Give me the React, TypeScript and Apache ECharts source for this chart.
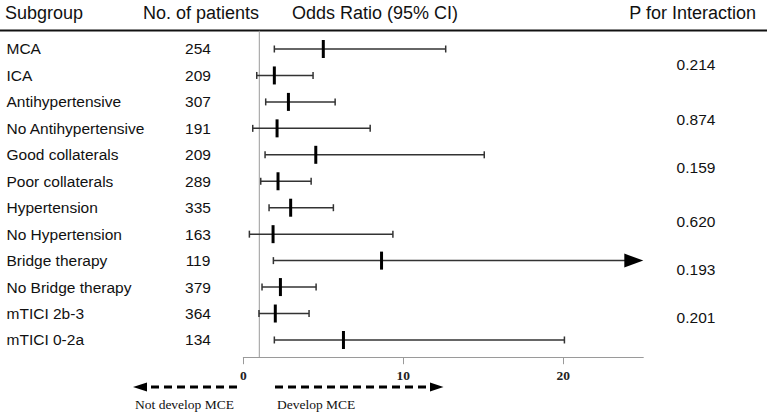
import React, { useEffect, useRef } from 'react';
import * as echarts from 'echarts';

const subgroups = [
  'MCA', 'ICA', 'Antihypertensive', 'No Antihypertensive', 'Good collaterals', 'Poor collaterals',
  'Hypertension', 'No Hypertension', 'Bridge therapy', 'No Bridge therapy', 'mTICI 2b-3', 'mTICI 0-2a',
];
const patients = [254, 209, 307, 191, 209, 289, 335, 163, 119, 379, 364, 134];
const oddsRatio = [5.0, 1.94, 2.82, 2.11, 4.53, 2.17, 2.96, 1.86, 8.64, 2.32, 2.0, 6.26];
const ciLow = [1.94, 0.84, 1.4, 0.59, 1.36, 1.09, 1.61, 0.38, 1.88, 1.17, 0.98, 1.94];
const ciHigh = [12.65, 4.36, 5.74, 7.93, 15.06, 4.24, 5.63, 9.35, 30, 4.55, 4.11, 20.07];
const pValues = ['0.214', '0.874', '0.159', '0.620', '0.193', '0.201'];
const pValueRows = [0.58, 2.66, 4.47, 6.53, 8.33, 10.14];
const xTicks = [0, 10, 20];
const X_MIN = 0;
const X_MAX = 25;
const REF_VALUE = 1;

const SANS = '"Liberation Sans", Arial, Helvetica, sans-serif';
const SERIF = '"Liberation Serif", "Times New Roman", Times, serif';

export default function App() {
  const ref = useRef<HTMLDivElement>(null);

  useEffect(() => {
    if (!ref.current) return;
    const chart = echarts.init(ref.current, undefined, { renderer: 'svg' });

    const ciData = subgroups.map((_, i) => [oddsRatio[i], i, ciLow[i], ciHigh[i]]);

    const option: any = {
      animation: false,
      backgroundColor: '#ffffff',
      grid: { left: 243.3, right: 123.7, top: 35.77, bottom: 63.8, containLabel: false },
      xAxis: {
        type: 'value',
        min: X_MIN,
        max: X_MAX,
        interval: 10,
        offset: 4,
        axisLine: { show: true, onZero: false, lineStyle: { color: '#9a9a9a', width: 1 } },
        axisTick: { show: true, length: 7, lineStyle: { color: '#9a9a9a', width: 1 }, customValues: xTicks },
        axisLabel: {
          customValues: xTicks,
          fontFamily: SERIF,
          fontWeight: 'bold',
          fontSize: 13.5,
          color: '#222',
          margin: 11,
        },
        splitLine: { show: false },
      },
      yAxis: [
        {
          type: 'category',
          data: subgroups,
          inverse: true,
          position: 'left',
          axisLine: { show: false, onZero: false },
          axisTick: { show: false },
          splitLine: { show: false },
          axisLabel: {
            interval: 0,
            align: 'left',
            margin: 236.8,
            fontFamily: SANS,
            fontSize: 15.5,
            color: '#111',
            padding: [5, 0, 0, 0],
          },
        },
        {
          type: 'category',
          data: patients.map(String),
          inverse: true,
          position: 'left',
          axisLine: { show: false, onZero: false },
          axisTick: { show: false },
          splitLine: { show: false },
          axisLabel: {
            interval: 0,
            align: 'center',
            margin: 45.3,
            fontFamily: SANS,
            fontSize: 15.5,
            color: '#111',
            padding: [5, 0, 0, 0],
          },
        },
        { type: 'value', min: -0.5, max: 11.5, inverse: true, show: false, axisLine: { onZero: false } },
      ],
      series: [
        {
          type: 'custom',
          name: 'reference',
          z: 1,
          data: [[REF_VALUE, 0]],
          renderItem: (params: any, api: any) => {
            const cs = params.coordSys;
            const x = api.coord([api.value(0), 0])[0];
            return {
              type: 'line',
              shape: { x1: x, y1: cs.y - 5, x2: x, y2: cs.y + cs.height + 4 },
              style: { stroke: '#9a9a9a', lineWidth: 1 },
            };
          },
        },
        {
          type: 'custom',
          name: 'Odds Ratio',
          z: 3,
          yAxisIndex: 0,
          encode: { x: [0, 2, 3], y: 1 },
          data: ciData,
          renderItem: (params: any, api: any) => {
            const pt = api.value(0);
            const i = api.value(1);
            const lo = api.value(2);
            const hi = api.value(3);
            const [xl, y] = api.coord([lo, i]);
            const xp = api.coord([pt, i])[0];
            const arrow = hi > X_MAX;
            const xh = api.coord([arrow ? X_MAX : hi, i])[0];
            const lineStyle = { stroke: '#333', lineWidth: 1.5 };
            const children: any[] = [
              { type: 'line', shape: { x1: xl, y1: y, x2: arrow ? xh - 16 : xh, y2: y }, style: lineStyle },
              { type: 'line', shape: { x1: xl, y1: y - 3.5, x2: xl, y2: y + 3.5 }, style: lineStyle },
            ];
            if (arrow) {
              children.push({
                type: 'polygon',
                shape: { points: [[xh, y], [xh - 19, y - 7], [xh - 19, y + 7]] },
                style: { fill: '#000' },
              });
            } else {
              children.push({ type: 'line', shape: { x1: xh, y1: y - 3.5, x2: xh, y2: y + 3.5 }, style: lineStyle });
            }
            children.push({
              type: 'rect',
              shape: { x: xp - 1.5, y: y - 9, width: 3, height: 18 },
              style: { fill: '#000' },
            });
            return { type: 'group', children };
          },
        },
        {
          type: 'custom',
          name: 'P for Interaction',
          z: 3,
          yAxisIndex: 2,
          data: pValueRows.map((r, k) => [0, r, k]),
          renderItem: (params: any, api: any) => {
            const cs = params.coordSys;
            const y = api.coord([0, api.value(1)])[1];
            const k = api.value(2);
            return {
              type: 'text',
              x: cs.x + cs.width + 52.7,
              y,
              style: {
                text: pValues[k],
                fontFamily: SANS,
                fontSize: 15.5,
                fill: '#111',
                align: 'center',
                verticalAlign: 'middle',
              },
            };
          },
        },
      ],
      graphic: [
        {
          type: 'line',
          shape: { x1: 0, y1: 30.5, x2: 767, y2: 30.5 },
          style: { stroke: '#111', lineWidth: 2 },
        },
        { type: 'text', x: 5, y: 13, style: { text: 'Subgroup', fontFamily: SANS, fontSize: 18, fill: '#111', align: 'left', verticalAlign: 'middle' } },
        { type: 'text', x: 143, y: 13, style: { text: 'No. of patients', fontFamily: SANS, fontSize: 18, fill: '#111', align: 'left', verticalAlign: 'middle' } },
        { type: 'text', x: 292, y: 13, style: { text: 'Odds Ratio (95% CI)', fontFamily: SANS, fontSize: 18, fill: '#111', align: 'left', verticalAlign: 'middle' } },
        { type: 'text', x: 756, y: 13, style: { text: 'P for Interaction', fontFamily: SANS, fontSize: 18, fill: '#111', align: 'right', verticalAlign: 'middle' } },
        {
          type: 'line',
          shape: { x1: 237, y1: 387, x2: 146, y2: 387 },
          style: { stroke: '#000', lineWidth: 3, lineDash: [8, 5] },
        },
        {
          type: 'polygon',
          shape: { points: [[133, 387], [147, 382.5], [147, 391.5]] },
          style: { fill: '#000' },
        },
        {
          type: 'line',
          shape: { x1: 275, y1: 387, x2: 431, y2: 387 },
          style: { stroke: '#000', lineWidth: 3, lineDash: [8, 5] },
        },
        {
          type: 'polygon',
          shape: { points: [[443.5, 387], [430, 382.5], [430, 391.5]] },
          style: { fill: '#000' },
        },
        { type: 'text', x: 135, y: 404, style: { text: 'Not develop MCE', fontFamily: SERIF, fontSize: 13.5, fill: '#111', align: 'left', verticalAlign: 'middle' } },
        { type: 'text', x: 277, y: 404, style: { text: 'Develop MCE', fontFamily: SERIF, fontSize: 13.5, fill: '#111', align: 'left', verticalAlign: 'middle' } },
      ],
    };

    chart.setOption(option);
    return () => chart.dispose();
  }, []);

  return (
    <div
      ref={ref}
      style={{ position: 'absolute', left: 0, top: 0, width: 767, height: 417, background: '#fff' }}
    />
  );
}
